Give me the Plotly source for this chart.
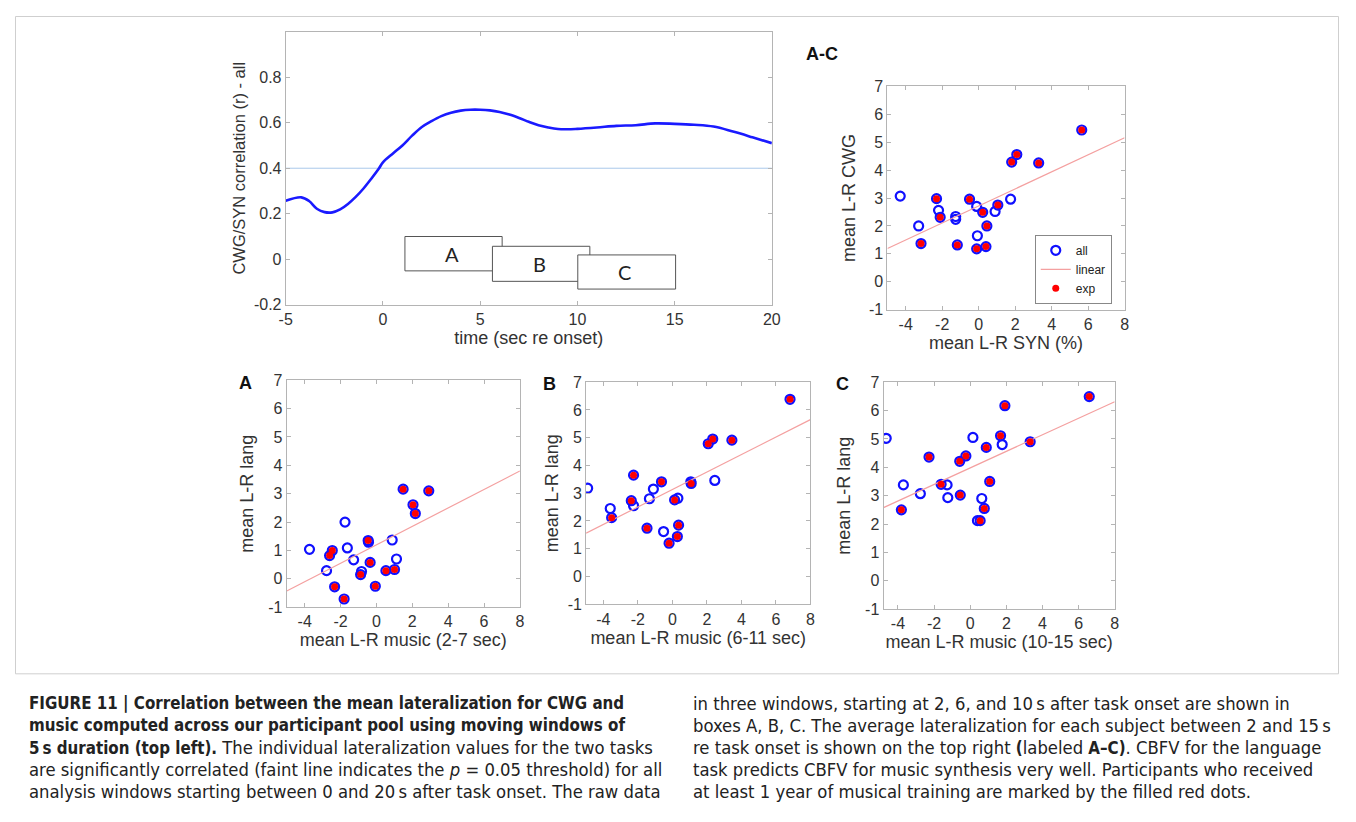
import plotly.graph_objects as go

# page = figure + 8px default body margin on each side -> 1356 x 822
W, H = 1340, 806
OFF = 8

# ---------------- data ----------------
time_s = [-5, -4.2, -3.8, -3.4, -3.0, -2.6, -2.2, -1.8, -1.4, -1.0, -0.6, -0.2, 0, 0.5, 1, 1.5,
          2, 2.5, 3, 3.5, 4, 4.5, 5, 5.5, 6, 6.5, 7, 7.5, 8, 8.5, 9, 9.5, 10, 11, 12, 13, 14,
          15, 16, 17, 18, 19, 20]
corr_r = [0.257, 0.272, 0.256, 0.222, 0.207, 0.206, 0.219, 0.243, 0.274, 0.311, 0.354, 0.400,
          0.426, 0.464, 0.500, 0.543, 0.581, 0.607, 0.629, 0.644, 0.653, 0.657, 0.657, 0.654,
          0.647, 0.636, 0.621, 0.604, 0.589, 0.579, 0.572, 0.571, 0.573, 0.579, 0.586, 0.589,
          0.597, 0.595, 0.591, 0.583, 0.561, 0.536, 0.510]
threshold_r = 0.4

time_ticks = [-5, 0, 5, 10, 15, 20]
time_ticktext = ["-5", "0", "5", "10", "15", "20"]
corr_ticks = [-0.2, 0, 0.2, 0.4, 0.6, 0.8]
corr_ticktext = ["-0.2", "0", "0.2", "0.4", "0.6", "0.8"]
lr_x_ticks = [-4, -2, 0, 2, 4, 6, 8]
lr_x_ticktext = ["-4", "-2", "0", "2", "4", "6", "8"]
lr_y_ticks = [-1, 0, 1, 2, 3, 4, 5, 6, 7]
lr_y_ticktext = ["-1", "0", "1", "2", "3", "4", "5", "6", "7"]

win_labels = ["A", "B", "C"]
win_x0 = [1.13, 5.63, 10.02]
win_x1 = [6.13, 10.64, 15.05]
win_y0 = [-0.051, -0.097, -0.131]
win_y1 = [0.100, 0.057, 0.019]

# A-C (top right): mean L-R SYN (%) vs mean L-R CWG
ac_x = [-4.30, -3.29, -3.16, -2.31, -2.20, -2.11, -1.26, -1.26, -1.17, -0.50, -0.11, -0.07,
        -0.11, 0.22, 0.40, 0.45, 0.90, 1.05, 1.75, 1.81, 2.09, 3.29, 5.65]
ac_y = [3.07, 2.00, 1.37, 2.98, 2.56, 2.31, 2.34, 2.24, 1.32, 2.96, 2.70, 1.65,
        1.18, 2.49, 1.26, 2.00, 2.52, 2.75, 2.96, 4.29, 4.56, 4.26, 5.44]
ac_exp = [0, 0, 1, 1, 0, 1, 0, 0, 1, 1, 0, 0, 1, 1, 1, 1, 0, 1, 0, 1, 1, 1, 1]
ac_fit_x = [-5, 8]
ac_fit_y = [1.19, 5.16]

# A: music 2-7 sec vs lang
a_x = [-3.73, -2.78, -2.61, -2.46, -2.33, -1.75, -1.80, -1.62, -1.27, -0.83, -0.88, -0.46,
       -0.44, -0.35, -0.06, 0.53, 0.88, 1.01, 1.12, 1.49, 2.04, 2.17, 2.92]
a_y = [1.04, 0.29, 0.82, 1.00, -0.28, 2.00, -0.71, 1.09, 0.67, 0.26, 0.15, 1.35,
       1.29, 0.58, -0.26, 0.29, 1.37, 0.33, 0.70, 3.16, 2.61, 2.30, 3.10]
a_exp = [0, 0, 1, 1, 1, 0, 1, 0, 0, 0, 1, 1, 0, 1, 1, 1, 0, 1, 0, 1, 1, 1, 1]
a_fit_x = [-5, 8]
a_fit_y = [-0.43, 3.80]

# B: music 6-11 sec vs lang
b_x = [-4.91, -3.60, -3.52, -2.38, -2.25, -2.25, -1.47, -1.33, -1.10, -0.63, -0.51, -0.19,
       0.13, 0.32, 0.29, 0.36, 1.07, 1.09, 2.08, 2.34, 2.46, 3.45, 6.82]
b_y = [3.18, 2.45, 2.12, 2.73, 2.55, 3.65, 1.74, 2.80, 3.15, 3.41, 1.62, 1.20,
       2.76, 2.82, 1.44, 1.85, 3.41, 3.35, 4.78, 4.95, 3.46, 4.91, 6.38]
b_exp = [0, 0, 1, 1, 0, 1, 1, 0, 0, 1, 0, 1, 1, 0, 1, 1, 0, 1, 1, 1, 0, 1, 1]
b_fit_x = [-5, 8]
b_fit_y = [1.56, 5.65]

# C: music 10-15 sec vs lang
c_x = [-4.65, -3.81, -3.70, -2.76, -2.28, -1.61, -1.28, -1.24, -0.58, -0.55, -0.24, 0.15,
       0.40, 0.55, 0.64, 0.78, 0.89, 1.08, 1.68, 1.77, 1.92, 3.32, 6.59]
c_y = [5.02, 2.50, 3.38, 3.07, 4.36, 3.40, 3.38, 2.93, 4.21, 3.02, 4.40, 5.05,
       2.12, 2.12, 2.90, 2.55, 4.70, 3.50, 5.11, 4.80, 6.17, 4.90, 6.49]
c_exp = [0, 1, 0, 0, 1, 1, 0, 0, 1, 1, 1, 0, 0, 1, 0, 1, 1, 1, 1, 0, 1, 1, 1]
c_fit_x = [-4.8, 8]
c_fit_y = [2.58, 6.31]

B0 = '<span style="font-size:16.8px"><b>'
B1 = '</b></span>'
caption_left = [
    B0 + "FIGURE 11 | Correlation between the mean lateralization for CWG and" + B1,
    B0 + "music computed across our participant pool using moving windows of" + B1,
    B0 + "5\u2009s duration (top left)." + B1 + " The individual lateralization values for the two tasks",
    "are significantly correlated (faint line indicates the <i>p</i> = 0.05 threshold) for all",
    "analysis windows starting between 0 and 20\u2009s after task onset. The raw data",
]
caption_right = [
    "in three windows, starting at 2, 6, and 10\u2009s after task onset are shown in",
    "boxes A, B, C. The average lateralization for each subject between 2 and 15\u2009s",
    "re task onset is shown on the top right " + B0 + "(" + B1 + "labeled " + B0 + "A\u2013C)" + B1
    + ". CBFV for the language",
    "task predicts CBFV for music synthesis very well. Participants who received",
    "at least 1 year of musical training are marked by the filled red dots.",
]

# ---------------- layout helpers (page pixel -> paper fraction) ----------------
def fx(px):
    return (px - OFF) / W

def fy(py):
    return 1 - (py - OFF) / H

AX_FONT = "Liberation Sans, Arial, sans-serif"
CAP_FONT = "DejaVu Sans Condensed, sans-serif"
FRAME = "#b4b4b4"

def axis(rng, dom, tickvals, ticktext, title, standoff=6, tsize=18):
    return dict(range=rng, domain=dom, showline=True, linecolor=FRAME, linewidth=1,
                mirror="ticks", ticks="inside", ticklen=4, tickcolor=FRAME,
                showgrid=False, zeroline=False, tickvals=tickvals, ticktext=ticktext,
                tickfont=dict(family=AX_FONT, size=16, color="#333"),
                title=dict(text=title, standoff=standoff,
                           font=dict(family=AX_FONT, size=tsize, color="#333")))

fig = go.Figure()

fig.add_trace(go.Scatter(x=[time_s[0], time_s[-1]], y=[threshold_r, threshold_r], mode="lines",
                         line=dict(color="#aac8ea", width=1), showlegend=False,
                         xaxis="x", yaxis="y", hoverinfo="skip"))
fig.add_trace(go.Scatter(x=time_s, y=corr_r, mode="lines",
                         line=dict(color="#1a1aff", width=2.6, shape="spline"),
                         showlegend=False, xaxis="x", yaxis="y"))

panels = [
    (ac_x, ac_y, ac_exp, ac_fit_x, ac_fit_y, "x2", "y2", True),
    (a_x, a_y, a_exp, a_fit_x, a_fit_y, "x3", "y3", False),
    (b_x, b_y, b_exp, b_fit_x, b_fit_y, "x4", "y4", False),
    (c_x, c_y, c_exp, c_fit_x, c_fit_y, "x5", "y5", False),
]
for xs, ys, ex, fx_, fy_, xa, ya, leg in panels:
    fig.add_trace(go.Scatter(x=xs, y=ys, mode="markers", name="all",
                             marker=dict(symbol="circle-open", size=9, color="#1010ff",
                                         line=dict(width=2.2, color="#1010ff")),
                             showlegend=leg, xaxis=xa, yaxis=ya))
    fig.add_trace(go.Scatter(x=fx_, y=fy_, mode="lines", name="linear",
                             line=dict(color="#f4a0a0", width=1.2),
                             showlegend=leg, xaxis=xa, yaxis=ya))
    ex_x = [v for v, f in zip(xs, ex) if f]
    ex_y = [v for v, f in zip(ys, ex) if f]
    fig.add_trace(go.Scatter(x=ex_x, y=ex_y, mode="markers", name="exp",
                             marker=dict(symbol="circle", size=7, color="#ff0000"),
                             showlegend=leg, xaxis=xa, yaxis=ya))

shapes = []
annotations = []
for lab, x0, x1, y0, y1 in zip(win_labels, win_x0, win_x1, win_y0, win_y1):
    shapes.append(dict(type="rect", xref="x", yref="y", x0=x0, x1=x1, y0=y0, y1=y1,
                       fillcolor="white", line=dict(color="#555", width=1), layer="above"))
    annotations.append(dict(xref="x", yref="y", x=(x0 + x1) / 2 - 0.1, y=(y0 + y1) / 2,
                            text=lab, showarrow=False,
                            font=dict(family="Lato, Open Sans, sans-serif", size=20, color="#222")))

shapes.append(dict(type="rect", xref="paper", yref="paper", x0=fx(8.5), x1=fx(1347.5),
                   y0=fy(680), y1=fy(8.5), line=dict(color="#cfcfcf", width=1), layer="below"))

for txt, px, py in [("A-C", 825, 47), ("A", 241, 383), ("B", 549, 384), ("C", 846, 384)]:
    annotations.append(dict(xref="paper", yref="paper", x=fx(px), y=fy(py), text="<b>%s</b>" % txt,
                            showarrow=False, xanchor="center", yanchor="middle",
                            font=dict(family=AX_FONT, size=18, color="#111")))

for i, line in enumerate(caption_left):
    annotations.append(dict(xref="paper", yref="paper", x=fx(20), y=fy(710 + 22.5 * i), text=line,
                            showarrow=False, xanchor="left", yanchor="middle", align="left",
                            font=dict(family=CAP_FONT, size=18.3, color="#222")))
for i, line in enumerate(caption_right):
    annotations.append(dict(xref="paper", yref="paper", x=fx(692), y=fy(710 + 22.5 * i), text=line,
                            showarrow=False, xanchor="left", yanchor="middle", align="left",
                            font=dict(family=CAP_FONT, size=18.3, color="#222")))

fig.update_layout(
    width=W, height=H, margin=dict(l=0, r=0, t=0, b=0),
    paper_bgcolor="white", plot_bgcolor="white",
    xaxis=axis([-5, 20], [fx(282), fx(774)], time_ticks, time_ticktext,
               "time (sec re onset)", standoff=4),
    yaxis=axis([-0.2, 1.0], [fy(303), fy(24)], corr_ticks, corr_ticktext,
               "CWG/SYN correlation (r) - all", standoff=4, tsize=16.5),
    xaxis2=axis([-5, 8], [fx(891), fx(1131)], lr_x_ticks, lr_x_ticktext,
                "mean L-R SYN (%)", standoff=4),
    yaxis2=axis([-1, 7], [fy(308), fy(80)], lr_y_ticks, lr_y_ticktext,
                "mean L-R CWG", standoff=8),
    xaxis3=axis([-5, 8], [fx(283), fx(519)], lr_x_ticks, lr_x_ticktext,
                "mean L-R music (2-7 sec)", standoff=2),
    yaxis3=axis([-1, 7], [fy(612), fy(380)], lr_y_ticks, lr_y_ticktext,
                "mean L-R lang", standoff=9),
    xaxis4=axis([-5, 8], [fx(586), fx(813)], lr_x_ticks, lr_x_ticktext,
                "mean L-R music (6-11 sec)", standoff=2),
    yaxis4=axis([-1, 7], [fy(609), fy(382)], lr_y_ticks, lr_y_ticktext,
                "mean L-R lang", standoff=4),
    xaxis5=axis([-4.8, 8], [fx(887), fx(1121)], lr_x_ticks, lr_x_ticktext,
                "mean L-R music (10-15 sec)", standoff=2),
    yaxis5=axis([-1, 7], [fy(614), fy(382)], lr_y_ticks, lr_y_ticktext,
                "mean L-R lang", standoff=9),
    legend=dict(x=fx(1118), y=fy(302), xanchor="right", yanchor="bottom",
                bgcolor="white", bordercolor="#888", borderwidth=1,
                font=dict(family=AX_FONT, size=12, color="#222"),
                tracegroupgap=0, itemwidth=30),
    shapes=shapes, annotations=annotations,
)
for k in ["yaxis", "yaxis2", "yaxis3", "yaxis4", "yaxis5"]:
    fig.layout[k].anchor = "x" + k[5:] if k != "yaxis" else "x"
for k in ["xaxis", "xaxis2", "xaxis3", "xaxis4", "xaxis5"]:
    fig.layout[k].anchor = "y" + k[5:] if k != "xaxis" else "y"

fig.write_html("out.html", config={"displayModeBar": False})
